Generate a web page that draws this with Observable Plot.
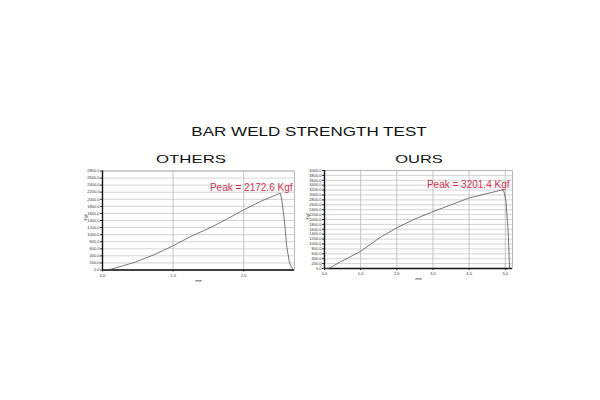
<!DOCTYPE html>
<html>
<head>
<meta charset="utf-8">
<script src="https://cdn.jsdelivr.net/npm/d3@7"></script>
<script src="https://cdn.jsdelivr.net/npm/@observablehq/plot@0.6"></script>
<style>
  html, body { margin: 0; padding: 0; background: #fff; }
  #page { position: relative; width: 600px; height: 400px; background: #fff; overflow: hidden;
          font-family: "Liberation Sans", Arial, sans-serif; color: #111; }
  .lbl { position: absolute; white-space: nowrap; line-height: 1; }
  .chart { position: absolute; }
</style>
</head>
<body>
<div id="page"></div>
<script>
// ---- data ----
const titleText = "BAR WELD STRENGTH TEST";
const panelNames = ["OTHERS", "OURS"];

const othersX = [0, 0.12, 0.45, 0.73, 1.0, 1.24, 1.53, 1.76, 2.0, 2.25, 2.52, 2.54, 2.57, 2.59, 2.61, 2.65, 2.70];
const othersY = [0, 20, 214, 431, 685, 939, 1201, 1438, 1700, 1950, 2172.6, 1974, 1500, 1128, 657, 197, 0];
const othersPeak = 2172.6;
const othersYTicks = d3.range(0, 2801, 200);
const othersXTicks = [0, 1, 2];

const oursX = [0, 0.12, 0.44, 1.0, 1.53, 2.0, 2.5, 3.0, 3.5, 4.0, 4.5, 4.9, 4.96, 5.02, 5.08, 5.12];
const oursY = [0, 0, 270, 700, 1260, 1660, 2020, 2320, 2600, 2880, 3060, 3201.4, 3160, 2750, 1500, 0];
const oursPeak = 3201.4;
const oursYTicks = d3.range(0, 4001, 200);
const oursXTicks = [0, 1, 2, 3, 4, 5];

const yUnit = "Kgf";
const xUnit = "mm";

// ---- layout helpers ----
const page = document.getElementById("page");
function addLabel(text, cx, cy, size, sx) {
  const d = document.createElement("div");
  d.className = "lbl";
  d.textContent = text;
  d.style.left = cx + "px";
  d.style.top = cy + "px";
  d.style.fontSize = size + "px";
  d.style.transform = `translate(-50%, -50%) scaleX(${sx})`;
  page.appendChild(d);
}
addLabel(titleText, 309, 131, 13, 1.31);
addLabel(panelNames[0], 190.5, 159, 11.6, 1.45);
addLabel(panelNames[1], 419, 159, 11.6, 1.42);

const fmt = d3.format(".1f");

function panel({xs, ys, peak, yTicks, xTicks, xMax, yMax, left, top, width, height, mt, mr, mb, ml, peakDx, peakDy}) {
  const data = xs.map((x, i) => ({x, y: ys[i]}));
  const chart = Plot.plot({
    width, height,
    marginTop: mt, marginRight: mr, marginBottom: mb, marginLeft: ml,
    style: {background: "transparent", fontFamily: "Liberation Sans, Arial, sans-serif"},
    x: {domain: [0, xMax]},
    y: {domain: [0, yMax]},
    marks: [
      Plot.gridY(yTicks, {stroke: "#c8c8c8", strokeOpacity: 1, strokeWidth: 0.8}),
      Plot.gridX(xTicks.filter(d => d > 0), {stroke: "#b8b8b8", strokeOpacity: 1, strokeWidth: 0.8}),
      Plot.frame({stroke: "#aaa", strokeWidth: 0.8}),
      Plot.axisY(yTicks, {tickSize: 2, tickPadding: 1, fontSize: 4, tickFormat: fmt, label: null, color: "#333"}),
      Plot.axisX(xTicks, {tickSize: 2, tickPadding: 2, fontSize: 4, tickFormat: fmt, label: null, color: "#333"}),
      Plot.ruleX([0], {stroke: "#111", strokeWidth: 1.4}),
      Plot.ruleY([0], {stroke: "#111", strokeWidth: 1.4}),
      Plot.line(data, {x: "x", y: "y", stroke: "#555", strokeWidth: 0.8}),
      Plot.text([`Peak = ${peak} Kgf`], {frameAnchor: "top-right", textAnchor: "end", lineAnchor: "middle",
        dx: peakDx, dy: peakDy, fill: "#cc3355", fontSize: 10}),
      Plot.text([yUnit], {frameAnchor: "left", dx: -17, rotate: -90, fontSize: 4, fill: "#333"}),
      Plot.text([xUnit], {frameAnchor: "bottom", dy: 9, fontSize: 4, fill: "#333", lineAnchor: "top"})
    ]
  });
  chart.classList.add("chart");
  chart.style.left = left + "px";
  chart.style.top = top + "px";
  page.appendChild(chart);
}

panel({xs: othersX, ys: othersY, peak: othersPeak, yTicks: othersYTicks, xTicks: othersXTicks,
  xMax: 2.72, yMax: 2800, left: 70, top: 160, width: 230, height: 125,
  mt: 10.5, mr: 6, mb: 15.5, ml: 32, peakDx: -2, peakDy: 17});

panel({xs: oursX, ys: oursY, peak: oursPeak, yTicks: oursYTicks, xTicks: oursXTicks,
  xMax: 5.2, yMax: 4000, left: 296, top: 160, width: 222, height: 125,
  mt: 10, mr: 6, mb: 17, ml: 28, peakDx: -3, peakDy: 14});
</script>
</body>
</html>
